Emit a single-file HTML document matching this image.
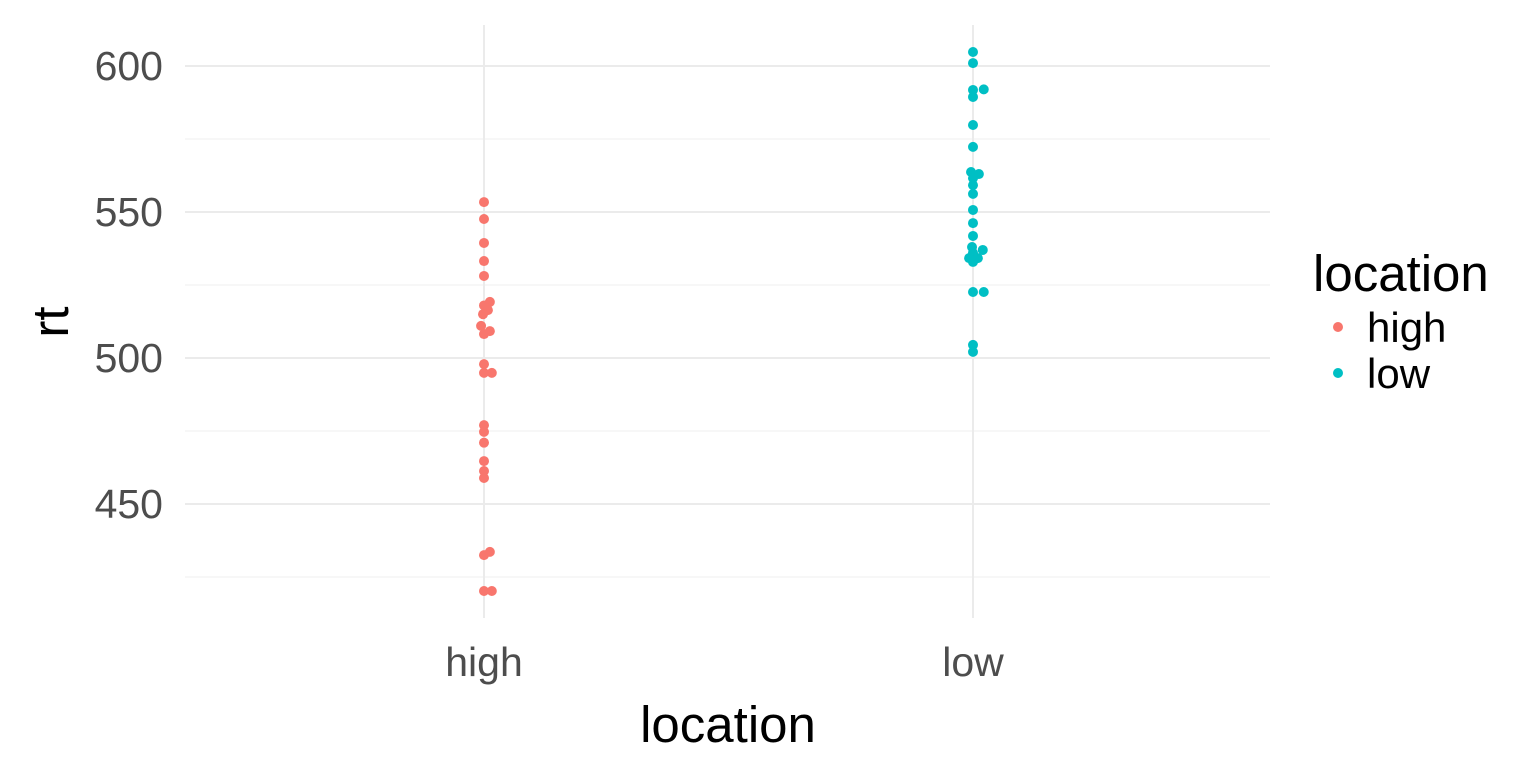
<!DOCTYPE html>
<html><head><meta charset="utf-8"><style>
body{margin:0;background:#fff}
svg{display:block;font-family:"Liberation Sans",sans-serif}
</style></head><body>
<svg id="chart" width="1536" height="768">
<g id="grid"></g>
<g id="pts"></g>
<g id="axes"></g>
<text x="728" y="742" font-size="51" text-anchor="middle" fill="#000">location</text>
<text transform="translate(68,322) rotate(-90)" font-size="51" text-anchor="middle" fill="#000">rt</text>
<g>
<text x="1313" y="291" font-size="51" fill="#000">location</text>
<g><circle cx="1338" cy="327" r="5" fill="#F8766D"/><text x="1367" y="342" font-size="42" fill="#000">high</text></g>
<g><circle cx="1338" cy="373" r="5" fill="#00BFC4"/><text x="1367" y="388" font-size="42" fill="#000">low</text></g>
</g>
</svg>
<script>
const categories=["high","low"];
const yTicks=[450,500,550,600];
const yMinor=[425,475,525,575];
const highVals=[553.4,547.6,539.4,533.2,528.1,519.2,518,516.4,515,511,509.2,508.2,497.9,494.9,494.9,477,474.7,471,464.7,461.3,458.9,432.5,433.6,420.2,420.2];
const highJit=[0,0,0,0,0,0.012,0,0.008,-0.002,-0.006,0.012,0,0,0,0.016,0,0,0,0,0,0,0,0.012,0,0.016];
const lowVals=[604.8,601,591.8,592,589.4,579.8,572.3,563.7,563,561.6,559.2,556.2,550.7,546.2,541.8,538,537,536,534.2,534.2,532.9,522.6,522.6,504.5,502.1];
const lowJit=[0,0,0,0.022,0,0,0,-0.004,0.012,0,0,0,0,0,0,-0.002,0.02,0,-0.008,0.01,0,0,0.022,0,0];
const L=185,R=1270,T=25,B=618;
const y=v=>66+(600-v)*2.92;
const x=i=>484+i*489;
const ns="http://www.w3.org/2000/svg";
function mk(tag,attrs,parent){const e=document.createElementNS(ns,tag);for(const k in attrs)e.setAttribute(k,attrs[k]);parent.appendChild(e);return e;}
const grid=document.getElementById('grid'),pts=document.getElementById('pts'),axes=document.getElementById('axes');
yMinor.forEach(v=>{const l=mk('line',{x1:L,x2:R,y1:y(v),y2:y(v),stroke:'#f2f2f2','stroke-width':1.2},grid);

});
yTicks.forEach(v=>{const l=mk('line',{x1:L,x2:R,y1:y(v),y2:y(v),stroke:'#ebebeb','stroke-width':2},grid);


const t=mk('text',{x:163,y:y(v)+14,'font-size':41,fill:'#4d4d4d','text-anchor':'end'},axes);t.textContent=v;

});
categories.forEach((c,i)=>{const l=mk('line',{x1:x(i),x2:x(i),y1:T,y2:B,stroke:'#ebebeb','stroke-width':2},grid);


const t=mk('text',{x:x(i),y:676,'font-size':41,fill:'#4d4d4d','text-anchor':'middle'},axes);t.textContent=c;

});
function draw(vals,jit,i,col){vals.forEach((v,k)=>{const c=mk('circle',{cx:x(i+jit[k]),cy:y(v),r:5,fill:col},pts);

});}
draw(highVals,highJit,0,'#F8766D');
draw(lowVals,lowJit,1,'#00BFC4');
</script>
</body></html>
